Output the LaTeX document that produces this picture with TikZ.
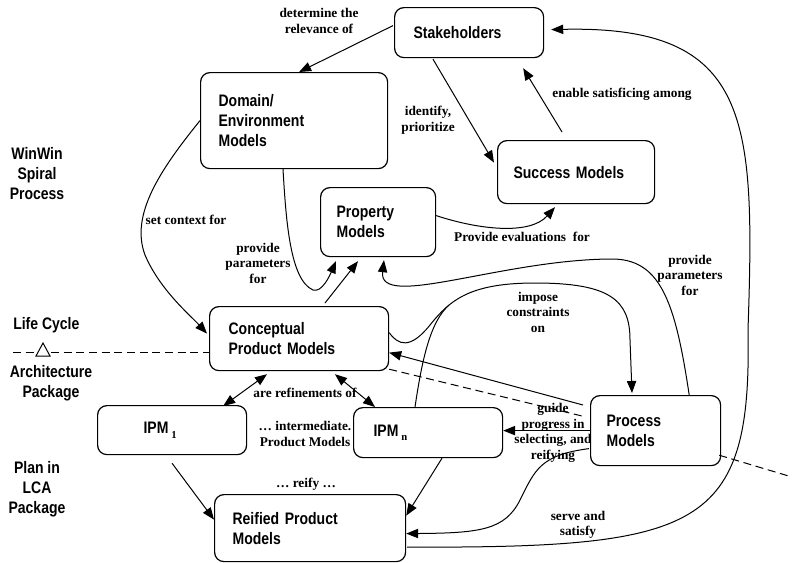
\documentclass[tikz,border=0pt]{standalone}
\usepackage{fontspec}
\usetikzlibrary{arrows.meta,calc}
\newfontfamily\boxfont{Liberation Sans}[FakeStretch=0.84]
\newfontfamily\lblfont{Liberation Serif}
\tikzset{
  box/.style={draw, line width=0.9pt, rounded corners=7pt, fill=white, anchor=north west, align=left, inner ysep=0pt, font=\boxfont\bfseries\fontsize{12.5}{15}\selectfont},
  lbl/.style={font=\lblfont\bfseries\fontsize{10}{11.6}\selectfont, align=center, inner sep=0pt},
  side/.style={font=\boxfont\bfseries\fontsize{12.5}{15}\selectfont, align=center, inner sep=0pt},
  conn/.style={line width=0.75pt, -{Triangle[length=9pt,width=7pt]}},
  biconn/.style={line width=0.75pt, {Triangle[length=9pt,width=7pt]}-{Triangle[length=9pt,width=7pt]}},
  plainline/.style={line width=0.75pt},
  bound/.style={line width=0.75pt, dash pattern=on 6pt off 3.5pt},
}
\newcommand{\subnum}[1]{{\lblfont\bfseries\fontsize{8}{8}\selectfont\raisebox{-3.5pt}{#1}}}
\begin{document}
\begin{tikzpicture}[x=0.75pt,y=-0.75pt]
\useasboundingbox (0,0) rectangle (792,562);

% labels that lie under boxes
\node[lbl] (l10) at (305,434) {… intermediate.\\Product Models};
\node[lbl] (l12) at (553,433) {guide\\progress in\\selecting, and\\reifying};

% boxes
\node[box, minimum height=37.5pt, inner xsep=14.25pt, text width=83.25pt] (stake) at (394,7) {Stakeholders};
\node[box, minimum height=72pt, inner xsep=13.5pt, text width=113.25pt] (dom) at (200,72) {Domain/\\Environment\\Models};
\node[box, minimum height=47.25pt, inner xsep=12pt, text width=93.75pt] (succ) at (497,140) {Success Models};
\node[box, minimum height=51.75pt, inner xsep=12pt, text width=62.25pt] (prop) at (320,187) {Property\\Models};
\node[box, minimum height=48pt, inner xsep=14.25pt, text width=105.75pt] (cpm) at (209,306) {Conceptual\\Product Models};
\node[box, minimum height=36.75pt, inner xsep=34.5pt, text width=42.75pt] (ipm1) at (97,405) {IPM\,\subnum{1}};
\node[box, minimum height=37.5pt, inner xsep=15pt, text width=81.75pt] (ipmn) at (353,407) {IPM\,\subnum{n}};
\node[box, minimum height=52.5pt, inner xsep=12pt, text width=73.5pt] (proc) at (590,395) {Process\\Models};
\node[box, minimum height=50.25pt, inner xsep=13.5pt, text width=116.25pt] (reif) at (214,494) {Reified Product\\Models};

% side labels
\node[side] (winwin) at (37,174) {WinWin\\Spiral\\Process};
\node[side, anchor=west] (lc) at (13,325) {Life Cycle};
\node[side] (arch) at (51,383) {Architecture\\Package};
\node[side] (plan) at (37,489) {Plan in\\LCA\\Package};

% life cycle boundary
\coordinate (dl) at (13,352);
\coordinate (edgeR) at (792,477);
\draw[bound] (dl) -- (cpm.west |- dl);
\draw[line width=0.75pt, fill=white] (43,343) -- (36,356) -- (50,356) -- cycle;
\draw[bound] ($(cpm.south east)+(0,-2)$) -- ($(proc.north west)+(-8,21)$);
\draw[bound] ($(proc.south east)+(-2,-11)$) -- (edgeR);

% connectors
\draw[conn] ($(stake.west)+(-1,-7)$) -- ($(dom.north)+(5,0)$);
\draw[conn] ($(stake.south west)+(39,1)$) -- ($(succ.west)+(-3,-9.5)$);
\draw[conn] ($(succ.north west)+(65,-8)$) -- ($(stake.south east)+(-21,10)$);
\draw[conn] ($(reif.east)+(1,19)$) .. controls (700,548) and (752,530) .. (748,330) .. controls (755,120) and (752,25) .. ($(stake.east)+(7,-3)$);
\draw[conn] ($(proc.north east)+(-32,0)$) .. controls (675,300) and (660,258) .. (610,259) .. controls (500,260) and (378,310) .. ($(prop.south west)+(64,3)$);
\draw[conn] ($(cpm.east)+(0,-6)$) .. controls (398,345) and (410,350) .. (430,325) .. controls (450,300) and (470,283) .. (535,283) .. controls (610,283) and (630,300) .. (630,340) -- ($(proc.north west)+(42,-2)$);
\draw[plainline] ($(ipmn.north west)+(62,0)$) .. controls (422,360) and (430,322) .. (449,305);
\draw[conn] ($(proc.north west)+(-7,10)$) -- ($(cpm.east)+(0,14)$);
\draw[conn] (proc.west) -- (proc.west -| ipmn.east);
\draw[conn] ($(proc.west)+(-1,18)$) .. controls (540,455) and (535,470) .. (520,500) .. controls (505,530) and (480,533) .. ($(reif.east)+(0,5.5)$);
\draw[conn] ($(ipmn.south west)+(89,0)$) -- ($(reif.east)+(0,-12.5)$);
\draw[conn] ($(ipm1.south west)+(75,8)$) -- ($(reif.west)+(0,-8.5)$);
\draw[biconn] ($(ipm1.north east)+(-24,1)$) -- ($(cpm.south west)+(58,3)$);
\draw[biconn] ($(cpm.south west)+(126,3)$) -- ($(ipmn.north west)+(22,0)$);
\draw[conn] (dom.west) .. controls (160,170) and (130,215) .. (145,255) .. controls (160,290) and (190,315) .. ($(cpm.west)+(-2,-5)$);
\draw[conn] ($(dom.south west)+(83,0)$) .. controls (286,220) and (290,280) .. (313,290) .. controls (322,293) and (330,275) .. ($(prop.south west)+(16,4)$);
\draw[conn] ($(cpm.north west)+(116,-3)$) -- ($(prop.south west)+(38,4)$);
\draw[conn] ($(prop.east)+(0,-6.5)$) .. controls (480,230) and (530,235) .. ($(succ.south west)+(58,3)$);

% edge labels
\node[lbl] (l1) at (319,21) {determine the\\relevance of};
\node[lbl] (l2) at (428,120) {identify,\\prioritize};
\node[lbl] (l3) at (622,94) {enable satisficing among};
\node[lbl] (l4) at (186,220) {set context for};
\node[lbl] (l5) at (258,263) {provide\\parameters\\for};
\node[lbl] (l6) at (522,237) {Provide evaluations~ for};
\node[lbl] (l7) at (690,275) {provide\\parameters\\for};
\node[lbl] (l8) at (538,312) {impose\\constraints\\on};
\node[lbl] (l9) at (305,393) {are refinements of};
\node[lbl] (l11) at (306,484) {… reify …};
\node[lbl] (l13) at (578,525) {serve and\\satisfy};
\end{tikzpicture}
\end{document}
